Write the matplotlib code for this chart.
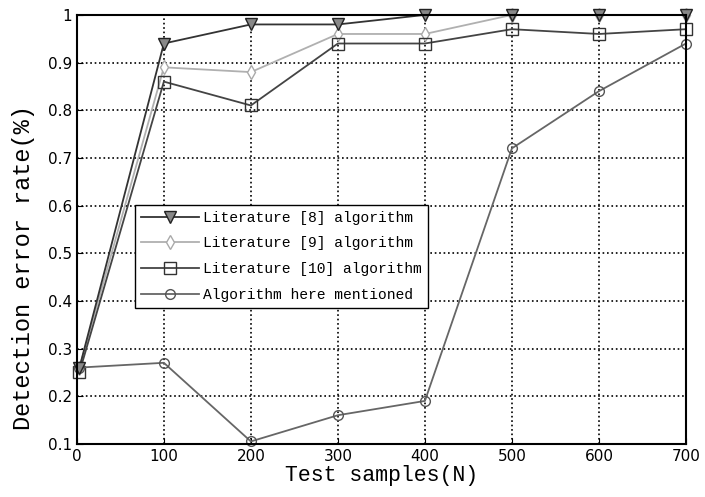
import matplotlib
matplotlib.use('Agg')
import matplotlib.pyplot as plt

x = [3, 100, 200, 300, 400, 500, 600, 700]
lit8 = [0.26, 0.94, 0.98, 0.98, 1.0, 1.0, 1.0, 1.0]
lit9 = [0.26, 0.89, 0.88, 0.96, 0.96, 1.0, 1.0, 1.0]
lit10 = [0.25, 0.86, 0.81, 0.94, 0.94, 0.97, 0.96, 0.97]
ours = [0.26, 0.27, 0.105, 0.16, 0.19, 0.72, 0.84, 0.94]
labels = ['Literature [8] algorithm', 'Literature [9] algorithm',
          'Literature [10] algorithm', 'Algorithm here mentioned']

fig = plt.figure(figsize=(7.05, 4.97), dpi=100)
ax = fig.add_axes([0.109, 0.107, 0.864, 0.863])

ax.plot(x, lit8, color='#333333', lw=1.3, marker='v', ms=8, mfc='#888888', mec='#222222', label=labels[0], clip_on=False, zorder=5)
ax.plot(x, lit9, color='#b0b0b0', lw=1.3, marker='d', ms=7, mfc='white', mec='#aaaaaa', label=labels[1], clip_on=False, zorder=4)
ax.plot(x, lit10, color='#444444', lw=1.3, marker='s', ms=8, mfc='none', mec='#333333', label=labels[2], clip_on=False, zorder=4)
ax.plot(x, ours, color='#666666', lw=1.3, marker='o', ms=7, mfc='none', mec='#555555', label=labels[3], clip_on=False, zorder=4)

ax.set_xlim(0, 700)
ax.set_ylim(0.1, 1.0)
ax.set_xticks(range(0, 701, 100))
ax.set_yticks([0.1, 0.2, 0.3, 0.4, 0.5, 0.6, 0.7, 0.8, 0.9, 1.0])
ax.set_yticklabels(['0.1', '0.2', '0.3', '0.4', '0.5', '0.6', '0.7', '0.8', '0.9', '1'])
ax.tick_params(direction='in', labelsize=11, length=4)
ax.grid(True, color='black', linestyle=':', lw=1.2)
for s in ax.spines.values():
    s.set_linewidth(1.5)
    s.set_zorder(6)

ax.set_xlabel('Test samples(N)', family='Liberation Mono', fontsize=15.5, labelpad=1)
ax.set_ylabel('Detection error rate(%)', family='Liberation Mono', fontsize=17)
ax.yaxis.set_label_coords(-0.068, 0.41)

leg = ax.legend(loc='upper left', bbox_to_anchor=(0.095, 0.557), prop={'family': 'Liberation Mono', 'size': 10.5},
                fancybox=False, edgecolor='black', framealpha=1, borderpad=0.4, labelspacing=0.8,
                handlelength=4.0, handletextpad=0.3, borderaxespad=0)
leg.get_frame().set_linewidth(1.0)
leg.set_zorder(7)

fig.savefig('out.png', dpi=100)
